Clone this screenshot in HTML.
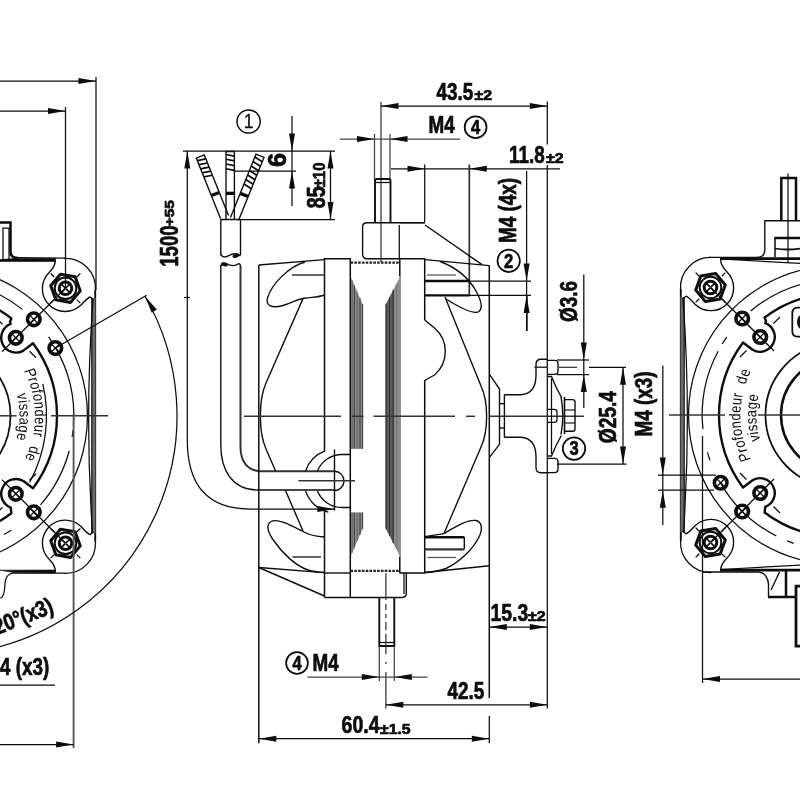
<!DOCTYPE html>
<html><head><meta charset="utf-8"><title>Motor drawing</title>
<style>
html,body{margin:0;padding:0;background:#fff;width:800px;height:800px;overflow:hidden;}
svg{display:block;filter:grayscale(1);}
text{font-family:"Liberation Sans",Arial,Helvetica,sans-serif;fill:#0d0d0d;stroke:#0d0d0d;stroke-width:0.7px;stroke-linejoin:round;}
</style></head>
<body>
<svg width="800" height="800" viewBox="0 0 800 800" fill="none" stroke-linecap="butt">
<rect x="0" y="0" width="800" height="800" fill="#fff"/>
<g id="leftview">
<g transform="translate(-62,415.8)">
<path d="M126.45,-157.48A30.00,30.00 0 0 1 157.46,-125.93" stroke="#0d0d0d" stroke-width="1.25" fill="none" />
<path d="M157.46,125.93A30.00,30.00 0 0 1 126.45,157.48" stroke="#0d0d0d" stroke-width="1.25" fill="none" />
<line x1="157.20" y1="-126.00" x2="157.20" y2="126.00" stroke="#0d0d0d" stroke-width="1.88" />
<rect x="153.6" y="-118" width="3.9" height="235.5" fill="#6c6c6c" stroke="none"/>
<line x1="153.80" y1="-118.00" x2="153.80" y2="117.50" stroke="#0d0d0d" stroke-width="1.12" />
<path d="M155,-116Q146.5,0 154.5,117" stroke="#0d0d0d" stroke-width="1.25" fill="none" />
<path d="M117.5,-155.5Q117,-149 111.4,-143.6A22.8,22.8 0 0 0 143,-110.7Q149,-117.5 152,-118.8L155.5,-116" stroke="#0d0d0d" stroke-width="1.38" fill="none" />
<path d="M117.5,155.5Q117,149 111.4,143.6A22.8,22.8 0 0 1 143,110.7Q149,117.5 152,118.8L155.5,116" stroke="#0d0d0d" stroke-width="1.38" fill="none" />
<polygon points="142.27,-124.90 132.63,-113.40 117.86,-116.01 112.73,-130.10 122.37,-141.60 137.14,-138.99" fill="none" stroke="#0d0d0d" stroke-width="3" stroke-linejoin="round"/>
<circle cx="127.50" cy="-127.50" r="10.80" stroke="#0d0d0d" stroke-width="2.00" fill="none"/>
<circle cx="127.50" cy="-127.50" r="6.30" stroke="#0d0d0d" stroke-width="3.00" fill="none"/>
<line x1="132.10" y1="-122.90" x2="127.85" y2="-127.15" stroke="#0d0d0d" stroke-width="1.62" />
<line x1="138.81" y1="-116.19" x2="142.35" y2="-112.65" stroke="#0d0d0d" stroke-width="1.25" />
<line x1="122.90" y1="-122.90" x2="127.15" y2="-127.15" stroke="#0d0d0d" stroke-width="1.62" />
<line x1="116.19" y1="-116.19" x2="112.65" y2="-112.65" stroke="#0d0d0d" stroke-width="1.25" />
<line x1="122.90" y1="-132.10" x2="127.15" y2="-127.85" stroke="#0d0d0d" stroke-width="1.62" />
<line x1="116.19" y1="-138.81" x2="112.65" y2="-142.35" stroke="#0d0d0d" stroke-width="1.25" />
<line x1="132.10" y1="-132.10" x2="127.85" y2="-127.85" stroke="#0d0d0d" stroke-width="1.62" />
<line x1="138.81" y1="-138.81" x2="142.35" y2="-142.35" stroke="#0d0d0d" stroke-width="1.25" />
<polygon points="142.27,130.10 132.63,141.60 117.86,138.99 112.73,124.90 122.37,113.40 137.14,116.01" fill="none" stroke="#0d0d0d" stroke-width="3" stroke-linejoin="round"/>
<circle cx="127.50" cy="127.50" r="10.80" stroke="#0d0d0d" stroke-width="2.00" fill="none"/>
<circle cx="127.50" cy="127.50" r="6.30" stroke="#0d0d0d" stroke-width="3.00" fill="none"/>
<line x1="132.10" y1="132.10" x2="127.85" y2="127.85" stroke="#0d0d0d" stroke-width="1.62" />
<line x1="138.81" y1="138.81" x2="142.35" y2="142.35" stroke="#0d0d0d" stroke-width="1.25" />
<line x1="122.90" y1="132.10" x2="127.15" y2="127.85" stroke="#0d0d0d" stroke-width="1.62" />
<line x1="116.19" y1="138.81" x2="112.65" y2="142.35" stroke="#0d0d0d" stroke-width="1.25" />
<line x1="122.90" y1="122.90" x2="127.15" y2="127.15" stroke="#0d0d0d" stroke-width="1.62" />
<line x1="116.19" y1="116.19" x2="112.65" y2="112.65" stroke="#0d0d0d" stroke-width="1.25" />
<line x1="132.10" y1="122.90" x2="127.85" y2="127.15" stroke="#0d0d0d" stroke-width="1.62" />
<line x1="138.81" y1="116.19" x2="142.35" y2="112.65" stroke="#0d0d0d" stroke-width="1.25" />
<circle cx="95.80" cy="-96.50" r="6.30" stroke="#0d0d0d" stroke-width="3.62" fill="none"/>
<line x1="100.25" y1="-92.05" x2="91.35" y2="-100.95" stroke="#0d0d0d" stroke-width="1.25" />
<line x1="91.35" y1="-92.05" x2="100.25" y2="-100.95" stroke="#0d0d0d" stroke-width="1.25" />
<circle cx="77.80" cy="-78.00" r="6.30" stroke="#0d0d0d" stroke-width="3.62" fill="none"/>
<line x1="82.25" y1="-73.55" x2="73.35" y2="-82.45" stroke="#0d0d0d" stroke-width="1.25" />
<line x1="73.35" y1="-73.55" x2="82.25" y2="-82.45" stroke="#0d0d0d" stroke-width="1.25" />
<line x1="127.50" y1="-127.50" x2="64.00" y2="-64.00" stroke="#0d0d0d" stroke-width="1.25" />
<circle cx="95.80" cy="96.50" r="6.30" stroke="#0d0d0d" stroke-width="3.62" fill="none"/>
<line x1="100.25" y1="100.95" x2="91.35" y2="92.05" stroke="#0d0d0d" stroke-width="1.25" />
<line x1="91.35" y1="100.95" x2="100.25" y2="92.05" stroke="#0d0d0d" stroke-width="1.25" />
<circle cx="77.80" cy="78.00" r="6.30" stroke="#0d0d0d" stroke-width="3.62" fill="none"/>
<line x1="82.25" y1="82.45" x2="73.35" y2="73.55" stroke="#0d0d0d" stroke-width="1.25" />
<line x1="73.35" y1="82.45" x2="82.25" y2="73.55" stroke="#0d0d0d" stroke-width="1.25" />
<line x1="127.50" y1="127.50" x2="64.00" y2="64.00" stroke="#0d0d0d" stroke-width="1.25" />
<path d="M31.08,-146.23A149.50,149.50 0 0 1 31.08,146.23" stroke="#0d0d0d" stroke-width="1.25" fill="none" />
<path d="M21.19,-120.15A122.00,122.00 0 0 1 73.42,-97.43L72,-94L72.70,-91.82A14.80,14.80 0 1 0 85.40,-65.18L95,-72.5A121.5,121.5 0 0 1 95,72.5L85.40,65.18A14.80,14.80 0 1 0 72.70,91.82L73.4,97.4L73.42,97.43A122.00,122.00 0 0 1 21.19,120.15" stroke="#0d0d0d" stroke-width="2.38" fill="none" stroke-linejoin="round"/>
<path d="M104.80,-31.97A140.00,140.00 0 0 1 91.65,66.59" stroke="#0d0d0d" stroke-width="1.25" fill="none" />
<line x1="64.50" y1="-91.50" x2="58.00" y2="-98.00" stroke="#0d0d0d" stroke-width="1.25" />
<line x1="91.50" y1="-64.50" x2="98.00" y2="-58.00" stroke="#0d0d0d" stroke-width="1.25" />
<line x1="64.50" y1="91.50" x2="58.00" y2="98.00" stroke="#0d0d0d" stroke-width="1.25" />
<line x1="91.50" y1="64.50" x2="98.00" y2="58.00" stroke="#0d0d0d" stroke-width="1.25" />
<path d="M12.59,-71.40A72.50,72.50 0 0 1 12.59,71.40" stroke="#0d0d0d" stroke-width="1.75" fill="none" />
<path d="M9.90,-56.13A57.00,57.00 0 0 1 9.90,56.13" stroke="#0d0d0d" stroke-width="2.50" fill="none" />
<circle cx="117.35" cy="-67.75" r="6.30" stroke="#0d0d0d" stroke-width="3.62" fill="none"/>
<line x1="121.80" y1="-63.30" x2="112.89" y2="-72.20" stroke="#0d0d0d" stroke-width="1.25" />
<line x1="112.89" y1="-63.30" x2="121.80" y2="-72.20" stroke="#0d0d0d" stroke-width="1.25" />
<path d="M23.58,-133.74A135.80,135.80 0 0 1 84.35,-106.43" stroke="#0d0d0d" stroke-width="1.25" fill="none" />
<path d="M110.56,-78.86A135.80,135.80 0 0 1 113.89,-73.96" stroke="#0d0d0d" stroke-width="1.25" fill="none" />
<path d="M117.61,-67.90A135.80,135.80 0 0 1 135.47,9.47" stroke="#0d0d0d" stroke-width="1.25" fill="none" />
<path d="M135.08,13.96A135.80,135.80 0 0 1 134.16,21.01" stroke="#0d0d0d" stroke-width="1.25" fill="none" />
<path d="M131.23,34.92A135.80,135.80 0 0 1 102.49,89.09" stroke="#0d0d0d" stroke-width="1.25" fill="none" />
<path d="M73.17,114.41A135.80,135.80 0 0 1 65.84,118.77" stroke="#0d0d0d" stroke-width="1.25" fill="none" />
<path d="M59.53,122.06A135.80,135.80 0 0 1 11.84,135.28" stroke="#0d0d0d" stroke-width="1.25" fill="none" />
</g>
<line x1="0.00" y1="81.00" x2="96.00" y2="81.00" stroke="#0d0d0d" stroke-width="1.25" />
<polygon points="96.00,81.00 78.50,84.00 78.50,78.00" fill="#0d0d0d"/>
<line x1="96.00" y1="77.00" x2="96.00" y2="290.00" stroke="#0d0d0d" stroke-width="1.25" />
<line x1="0.00" y1="111.00" x2="65.50" y2="111.00" stroke="#0d0d0d" stroke-width="1.25" />
<polygon points="65.50,111.00 48.00,114.00 48.00,108.00" fill="#0d0d0d"/>
<line x1="65.50" y1="107.00" x2="65.50" y2="288.00" stroke="#0d0d0d" stroke-width="1.25" />
<path d="M0,222.5H10.5V252Q10.5,258 18,258" stroke="#0d0d0d" stroke-width="2.50" fill="none" />
<path d="M3,261V228H9V261" stroke="#0d0d0d" stroke-width="1.25" fill="none" />
<path d="M14,258.6L55.5,258.4L55.5,261.6L0,261.4L0,259.6Z" stroke="#0d0d0d" stroke-width="0.62" fill="#0d0d0d" />
<line x1="17.00" y1="257.60" x2="65.00" y2="258.20" stroke="#0d0d0d" stroke-width="1.25" />
<path d="M0,570.2L55.5,570L55.5,573L14,572.6Z" stroke="#0d0d0d" stroke-width="0.62" fill="#0d0d0d" />
<path d="M65,573H13Q6,574 5,583Q4.5,598 0,598" stroke="#0d0d0d" stroke-width="1.25" fill="none" />
<line x1="0.00" y1="415.80" x2="16.50" y2="415.80" stroke="#333" stroke-width="1.50" />
<line x1="51.00" y1="415.80" x2="108.00" y2="415.80" stroke="#333" stroke-width="1.50" />
<line x1="73.60" y1="414.00" x2="73.60" y2="748.00" stroke="#555" stroke-width="1.88" />
<line x1="55.35" y1="348.05" x2="146.71" y2="295.30" stroke="#0d0d0d" stroke-width="1.25" />
<path d="M144.98,296.30A239.00,239.00 0 0 1 -20.50,651.17" stroke="#0d0d0d" stroke-width="1.25" fill="none" />
<polygon points="144.98,296.30 156.80,309.55 151.71,312.73" fill="#0d0d0d"/>
<line x1="0.00" y1="744.50" x2="73.60" y2="744.50" stroke="#0d0d0d" stroke-width="1.25" />
<polygon points="73.60,744.50 56.10,747.50 56.10,741.50" fill="#0d0d0d"/>
<text transform="translate(-12.50,638.80) rotate(-21.7) scale(0.82,1)" font-size="23" font-weight="bold" text-anchor="start" >120°(x3)</text>
<text transform="translate(-15.70,674.80) rotate(0) scale(0.82,1)" font-size="23" font-weight="bold" text-anchor="start" >M4 (x3)</text>
<line x1="0.00" y1="685.00" x2="55.00" y2="685.00" stroke="#0d0d0d" stroke-width="1.25" />
</g>
<g id="cable">
<line x1="183.00" y1="151.00" x2="335.00" y2="151.00" stroke="#0d0d0d" stroke-width="1.25" />
<line x1="187.30" y1="151.00" x2="187.30" y2="440.00" stroke="#0d0d0d" stroke-width="1.25" />
<polygon points="187.30,151.00 190.30,168.50 184.30,168.50" fill="#0d0d0d"/>
<line x1="184.00" y1="297.50" x2="190.00" y2="297.50" stroke="#0d0d0d" stroke-width="1.25" />
<path d="M187.3,440C187.3,482 205,509 250,509H334" stroke="#0d0d0d" stroke-width="1.25" fill="none" />
<polygon points="334.40,509.00 317.40,512.00 317.40,506.00" fill="#0d0d0d"/>
<line x1="292.00" y1="116.00" x2="292.00" y2="206.00" stroke="#0d0d0d" stroke-width="1.25" />
<polygon points="292.00,151.00 289.00,133.50 295.00,133.50" fill="#0d0d0d"/>
<polygon points="292.00,171.00 295.00,188.50 289.00,188.50" fill="#0d0d0d"/>
<line x1="234.00" y1="171.00" x2="296.00" y2="171.00" stroke="#0d0d0d" stroke-width="1.25" />
<line x1="330.50" y1="151.00" x2="330.50" y2="219.50" stroke="#0d0d0d" stroke-width="1.25" />
<polygon points="330.50,151.00 333.50,168.50 327.50,168.50" fill="#0d0d0d"/>
<polygon points="330.50,219.50 327.50,202.00 333.50,202.00" fill="#0d0d0d"/>
<line x1="240.00" y1="219.50" x2="335.00" y2="219.50" stroke="#0d0d0d" stroke-width="1.25" />
<path d="M220.51,218.60L196.31,158.10L204.29,154.90L228.49,215.40" stroke="#0d0d0d" stroke-width="1.38" fill="none" />
<line x1="197.32" y1="160.62" x2="205.90" y2="158.91" stroke="#0d0d0d" stroke-width="1.75" />
<line x1="198.95" y1="164.71" x2="207.53" y2="163.00" stroke="#0d0d0d" stroke-width="1.75" />
<line x1="200.59" y1="168.79" x2="209.17" y2="167.08" stroke="#0d0d0d" stroke-width="1.75" />
<line x1="202.22" y1="172.88" x2="210.80" y2="171.17" stroke="#0d0d0d" stroke-width="1.75" />
<line x1="203.85" y1="176.96" x2="212.43" y2="175.26" stroke="#0d0d0d" stroke-width="1.75" />
<line x1="211.31" y1="195.61" x2="219.30" y2="192.41" stroke="#0d0d0d" stroke-width="3.25" />
<path d="M226.00,219.00L226.00,151.50L234.40,151.50L234.40,219.00" stroke="#0d0d0d" stroke-width="1.38" fill="none" />
<line x1="226.00" y1="154.50" x2="234.40" y2="156.10" stroke="#0d0d0d" stroke-width="1.75" />
<line x1="226.00" y1="159.25" x2="234.40" y2="160.85" stroke="#0d0d0d" stroke-width="1.75" />
<line x1="226.00" y1="164.00" x2="234.40" y2="165.60" stroke="#0d0d0d" stroke-width="1.75" />
<line x1="226.00" y1="168.75" x2="234.40" y2="170.35" stroke="#0d0d0d" stroke-width="1.75" />
<line x1="226.00" y1="193.35" x2="234.40" y2="193.35" stroke="#0d0d0d" stroke-width="3.25" />
<path d="M230.51,217.39L256.01,154.19L263.99,157.41L238.49,220.61" stroke="#0d0d0d" stroke-width="1.38" fill="none" />
<line x1="254.86" y1="157.05" x2="262.23" y2="161.75" stroke="#0d0d0d" stroke-width="1.75" />
<line x1="253.04" y1="161.56" x2="260.42" y2="166.26" stroke="#0d0d0d" stroke-width="1.75" />
<line x1="251.22" y1="166.06" x2="258.60" y2="170.76" stroke="#0d0d0d" stroke-width="1.75" />
<line x1="249.41" y1="170.57" x2="256.78" y2="175.27" stroke="#0d0d0d" stroke-width="1.75" />
<line x1="247.59" y1="175.07" x2="254.96" y2="179.77" stroke="#0d0d0d" stroke-width="1.75" />
<line x1="245.77" y1="179.57" x2="253.15" y2="184.28" stroke="#0d0d0d" stroke-width="1.75" />
<line x1="243.95" y1="184.08" x2="251.33" y2="188.78" stroke="#0d0d0d" stroke-width="1.75" />
<line x1="240.20" y1="193.38" x2="248.18" y2="196.59" stroke="#0d0d0d" stroke-width="3.25" />
<path d="M220.8,255.5V219.5H240.5V255" stroke="#0d0d0d" stroke-width="1.38" fill="none" />
<path d="M220.8,254Q222,258.5 228,256Q236,251.5 240.5,256" stroke="#0d0d0d" stroke-width="1.38" fill="none" />
<ellipse cx="236" cy="255.8" rx="3.6" ry="1.9" fill="#111" transform="rotate(-15 236 255.8)"/>
<path d="M220.8,266Q222,262 226,263.5Q234,267.5 238,264Q240.5,263 240.5,267" stroke="#0d0d0d" stroke-width="1.38" fill="none" />
<ellipse cx="224.5" cy="264.4" rx="3.4" ry="1.9" fill="#111" transform="rotate(15 224.5 264.4)"/>
<path d="M220.8,265V445C220.8,470 232,490 258,490H334.5" stroke="#0d0d0d" stroke-width="1.38" fill="none" />
<path d="M240.5,266V447C240.5,461 247,471.3 262,471.3H334.5" stroke="#333" stroke-width="2.00" fill="none" />
<path d="M334.5,471.3A9.5,9.6 0 0 1 334.5,490.5" stroke="#0d0d0d" stroke-width="1.38" fill="none" />
<circle cx="248.60" cy="121.50" r="11.60" stroke="#0d0d0d" stroke-width="1.50" fill="none"/>
</g>
<text transform="translate(178.00,266.80) rotate(-90) scale(0.71,1)" font-size="26.3" font-weight="bold" text-anchor="start" >1500</text>
<text transform="translate(173.80,226.30) rotate(-90) scale(1.25,1)" font-size="12.4" font-weight="bold" text-anchor="start" >+55</text>
<text transform="translate(325.20,208.60) rotate(-90) scale(0.78,1)" font-size="25.8" font-weight="bold" text-anchor="start" >85</text>
<text transform="translate(325.20,187.30) rotate(-90) scale(0.875,1)" font-size="17" font-weight="bold" text-anchor="start" >±10</text>
<text transform="translate(286.40,167.00) rotate(-90) scale(0.98,1)" font-size="25.8" font-weight="bold" text-anchor="start" >6</text>
<text transform="translate(248.60,128.40) rotate(0) scale(0.9,1)" font-size="19.5" font-weight="normal" text-anchor="middle" style="stroke-width:0.3px">1</text>
<g id="central">
<line x1="381.00" y1="102.00" x2="381.00" y2="262.00" stroke="#333" stroke-width="1.25" />
<line x1="381.00" y1="106.00" x2="547.30" y2="106.00" stroke="#0d0d0d" stroke-width="1.25" />
<polygon points="381.00,106.00 398.50,103.00 398.50,109.00" fill="#0d0d0d"/>
<polygon points="547.30,106.00 529.80,109.00 529.80,103.00" fill="#0d0d0d"/>
<line x1="547.30" y1="101.50" x2="547.30" y2="144.50" stroke="#0d0d0d" stroke-width="1.25" />
<line x1="547.30" y1="165.00" x2="547.30" y2="708.50" stroke="#0d0d0d" stroke-width="1.25" />
<line x1="340.00" y1="139.00" x2="460.00" y2="139.00" stroke="#444" stroke-width="1.25" />
<polygon points="374.50,139.00 357.00,142.00 357.00,136.00" fill="#0d0d0d"/>
<polygon points="390.00,139.00 407.50,136.00 407.50,142.00" fill="#0d0d0d"/>
<line x1="374.50" y1="134.00" x2="374.50" y2="180.00" stroke="#444" stroke-width="1.25" />
<line x1="390.00" y1="134.00" x2="390.00" y2="180.00" stroke="#444" stroke-width="1.25" />
<path d="M375,222.5V181Q375,179 377,179H388.5Q390.5,179 390.5,181V222.5" stroke="#0d0d0d" stroke-width="1.88" fill="none" />
<line x1="375.00" y1="182.50" x2="390.50" y2="182.50" stroke="#0d0d0d" stroke-width="1.25" />
<line x1="391.00" y1="168.80" x2="560.00" y2="168.80" stroke="#0d0d0d" stroke-width="1.25" />
<polygon points="425.00,168.80 407.50,171.80 407.50,165.80" fill="#0d0d0d"/>
<polygon points="469.30,168.80 486.80,165.80 486.80,171.80" fill="#0d0d0d"/>
<line x1="469.30" y1="164.50" x2="469.30" y2="295.00" stroke="#333" stroke-width="1.75" />
<line x1="424.70" y1="164.50" x2="424.70" y2="222.00" stroke="#0d0d0d" stroke-width="1.25" />
<line x1="526.60" y1="171.00" x2="526.60" y2="331.00" stroke="#0d0d0d" stroke-width="1.25" />
<polygon points="526.60,281.00 523.60,263.50 529.60,263.50" fill="#0d0d0d"/>
<polygon points="526.60,295.40 529.60,312.90 523.60,312.90" fill="#0d0d0d"/>
<line x1="470.00" y1="281.00" x2="531.00" y2="281.00" stroke="#0d0d0d" stroke-width="1.25" />
<line x1="470.00" y1="295.40" x2="531.00" y2="295.40" stroke="#0d0d0d" stroke-width="1.25" />
<path d="M425,222.7H367Q362.6,222.7 362.6,227V254Q362.6,258.8 367,258.8" stroke="#0d0d0d" stroke-width="1.38" fill="none" />
<line x1="399.30" y1="225.00" x2="399.30" y2="259.00" stroke="#0d0d0d" stroke-width="1.25" />
<line x1="366.50" y1="258.80" x2="399.60" y2="258.80" stroke="#0d0d0d" stroke-width="1.38" />
<line x1="400.00" y1="222.70" x2="424.70" y2="222.70" stroke="#0d0d0d" stroke-width="1.25" />
<path d="M324.5,452V258.8H350.3V598" stroke="#0d0d0d" stroke-width="1.50" fill="none" />
<path d="M399.8,276V258.8H424.7V320" stroke="#0d0d0d" stroke-width="1.50" fill="none" />
<line x1="399.80" y1="557.00" x2="399.80" y2="573.00" stroke="#0d0d0d" stroke-width="1.50" />
<line x1="400.10" y1="276.00" x2="400.10" y2="557.00" stroke="#666" stroke-width="1.12" />
<path d="M399.6,573H424.7V380" stroke="#0d0d0d" stroke-width="1.50" fill="none" />
<line x1="350.50" y1="262.60" x2="399.50" y2="262.60" stroke="#222" stroke-width="2.25" stroke-dasharray="2.6 1.2"/>
<line x1="350.50" y1="570.80" x2="399.50" y2="570.80" stroke="#222" stroke-width="2.25" stroke-dasharray="2.6 1.2"/>
<path d="M351,277.5L363,305V448.7H351Z" fill="#8a8a8a" stroke="none"/>
<path d="M351,512.5H363V528L351,555.5Z" fill="#8a8a8a" stroke="none"/>
<line x1="352.20" y1="280.34" x2="352.20" y2="448.70" stroke="#666" stroke-width="1.12" />
<line x1="352.20" y1="512.50" x2="352.20" y2="552.66" stroke="#666" stroke-width="1.12" />
<line x1="354.40" y1="285.36" x2="354.40" y2="448.70" stroke="#444" stroke-width="1.12" />
<line x1="354.40" y1="512.50" x2="354.40" y2="547.64" stroke="#444" stroke-width="1.12" />
<line x1="357.30" y1="291.98" x2="357.30" y2="448.70" stroke="#666" stroke-width="1.12" />
<line x1="357.30" y1="512.50" x2="357.30" y2="541.02" stroke="#666" stroke-width="1.12" />
<line x1="360.00" y1="298.15" x2="360.00" y2="448.70" stroke="#444" stroke-width="1.12" />
<line x1="360.00" y1="512.50" x2="360.00" y2="534.85" stroke="#444" stroke-width="1.12" />
<line x1="362.60" y1="304.09" x2="362.60" y2="448.70" stroke="#444" stroke-width="1.12" />
<line x1="362.60" y1="512.50" x2="362.60" y2="528.91" stroke="#444" stroke-width="1.12" />
<path d="M400.4,276L385.6,305V528L400.4,557Z" fill="#8c8c8c" stroke="none"/>
<path d="M394,288.5L385.6,305V528L394,544.5Z" fill="#5c5c5c" stroke="none"/>
<line x1="386.20" y1="303.82" x2="386.20" y2="529.18" stroke="#333" stroke-width="1.12" />
<line x1="389.60" y1="297.16" x2="389.60" y2="535.84" stroke="#333" stroke-width="1.12" />
<line x1="393.20" y1="290.11" x2="393.20" y2="542.89" stroke="#333" stroke-width="1.12" />
<line x1="396.50" y1="283.64" x2="396.50" y2="549.36" stroke="#777" stroke-width="1.12" />
<line x1="258.80" y1="265.00" x2="258.80" y2="743.30" stroke="#0d0d0d" stroke-width="1.50" />
<line x1="258.80" y1="265.00" x2="324.50" y2="259.60" stroke="#0d0d0d" stroke-width="1.38" />
<path d="M305,262C290,266 272,283 267.5,298C265.5,306 272,308.5 283,305.5C292,303 296,299.5 304,298.3C312,297 318,297.5 324.5,295" stroke="#0d0d0d" stroke-width="1.38" fill="none" />
<line x1="292.00" y1="275.00" x2="324.00" y2="275.00" stroke="#0d0d0d" stroke-width="1.25" />
<path d="M303,298.6L266,383C258.5,400 258.5,432 266,449L275.7,471.3" stroke="#0d0d0d" stroke-width="1.38" fill="none" />
<path d="M285.5,490.5L303,531" stroke="#0d0d0d" stroke-width="1.38" fill="none" />
<path d="M324.5,537C315,536.5 308,534.5 303,531.5C292,526 278,518 271,521.5C265.5,524.5 268,533 274,541C283,554 296,566 308,570C314,572 320,572.3 324.5,572.5" stroke="#0d0d0d" stroke-width="1.38" fill="none" />
<line x1="292.50" y1="557.00" x2="321.00" y2="557.00" stroke="#0d0d0d" stroke-width="1.25" />
<line x1="258.80" y1="567.50" x2="324.50" y2="572.60" stroke="#0d0d0d" stroke-width="1.38" />
<line x1="258.80" y1="567.50" x2="324.50" y2="596.00" stroke="#0d0d0d" stroke-width="1.38" />
<line x1="324.50" y1="509.00" x2="324.50" y2="597.50" stroke="#0d0d0d" stroke-width="1.50" />
<path d="M324.5,597.5H402Q406.3,597.5 406.3,593V573" stroke="#0d0d0d" stroke-width="1.38" fill="none" />
<line x1="324.50" y1="573.00" x2="350.00" y2="573.00" stroke="#0d0d0d" stroke-width="1.38" />
<line x1="404.00" y1="573.00" x2="404.00" y2="594.00" stroke="#0d0d0d" stroke-width="1.25" />
<path d="M379.3,597.5V646H394.3V597.5" stroke="#0d0d0d" stroke-width="1.88" fill="none" />
<line x1="379.30" y1="642.50" x2="394.30" y2="642.50" stroke="#0d0d0d" stroke-width="1.25" />
<line x1="379.30" y1="646.00" x2="379.30" y2="681.00" stroke="#444" stroke-width="1.25" />
<line x1="394.30" y1="646.00" x2="394.30" y2="681.00" stroke="#444" stroke-width="1.25" />
<line x1="385.90" y1="573.00" x2="385.90" y2="708.50" stroke="#333" stroke-width="1.25" stroke-dasharray="27 4 6 4 4 4 8 4 20 8 2 8 60"/>
<line x1="307.50" y1="677.00" x2="427.50" y2="677.00" stroke="#444" stroke-width="1.25" />
<polygon points="379.30,677.00 361.80,680.00 361.80,674.00" fill="#0d0d0d"/>
<polygon points="394.30,677.00 411.80,674.00 411.80,680.00" fill="#0d0d0d"/>
<line x1="385.80" y1="704.80" x2="547.30" y2="704.80" stroke="#0d0d0d" stroke-width="1.25" />
<polygon points="385.80,704.80 403.30,701.80 403.30,707.80" fill="#0d0d0d"/>
<polygon points="547.30,704.80 529.80,707.80 529.80,701.80" fill="#0d0d0d"/>
<line x1="258.80" y1="738.70" x2="489.30" y2="738.70" stroke="#0d0d0d" stroke-width="1.25" />
<polygon points="258.80,738.70 276.30,735.70 276.30,741.70" fill="#0d0d0d"/>
<polygon points="489.30,738.70 471.80,741.70 471.80,735.70" fill="#0d0d0d"/>
<line x1="489.30" y1="716.00" x2="489.30" y2="743.30" stroke="#0d0d0d" stroke-width="1.25" />
<line x1="489.30" y1="627.10" x2="547.30" y2="627.10" stroke="#0d0d0d" stroke-width="1.25" />
<polygon points="489.30,627.10 506.80,624.10 506.80,630.10" fill="#0d0d0d"/>
<polygon points="547.30,627.10 529.80,630.10 529.80,624.10" fill="#0d0d0d"/>
<line x1="489.30" y1="265.50" x2="489.30" y2="698.00" stroke="#0d0d0d" stroke-width="1.50" />
<line x1="425.00" y1="225.00" x2="482.00" y2="264.60" stroke="#0d0d0d" stroke-width="1.38" />
<line x1="424.70" y1="259.60" x2="489.50" y2="265.60" stroke="#0d0d0d" stroke-width="1.38" />
<line x1="427.00" y1="275.00" x2="456.00" y2="275.00" stroke="#555" stroke-width="1.25" />
<line x1="424.70" y1="281.00" x2="470.00" y2="281.00" stroke="#0d0d0d" stroke-width="2.38" />
<line x1="424.70" y1="295.40" x2="470.00" y2="295.40" stroke="#0d0d0d" stroke-width="2.38" />
<path d="M440,261.5C455,267 468,277 476,291C481,300 483,308 479,311.5C474,315 462,309 446,299" stroke="#0d0d0d" stroke-width="1.38" fill="none" />
<path d="M445,297L481,386C488.5,402 488.5,431 481,447L444,533.5" stroke="#0d0d0d" stroke-width="1.38" fill="none" />
<path d="M424.7,320L434.5,328A31,31 0 0 1 434.5,375L424.7,380.5" stroke="#0d0d0d" stroke-width="1.38" fill="none" />
<path d="M444,533.5C455,527 468,519 476,520.5C482,522 483,529 479,537C473,549 460,562 446,568.5C438,571.5 431,572.3 424.7,572.5" stroke="#0d0d0d" stroke-width="1.38" fill="none" />
<line x1="424.70" y1="536.60" x2="444.00" y2="533.60" stroke="#0d0d0d" stroke-width="1.25" />
<line x1="424.70" y1="537.20" x2="464.30" y2="537.20" stroke="#0d0d0d" stroke-width="2.38" />
<line x1="464.30" y1="537.00" x2="464.30" y2="549.30" stroke="#0d0d0d" stroke-width="1.38" />
<line x1="424.70" y1="549.30" x2="464.30" y2="549.30" stroke="#333" stroke-width="2.25" />
<line x1="427.50" y1="557.50" x2="456.00" y2="557.50" stroke="#555" stroke-width="1.25" />
<line x1="424.70" y1="572.50" x2="489.50" y2="565.70" stroke="#0d0d0d" stroke-width="1.38" />
<path d="M324.53,451.13A32.00,32.00 0 0 0 305.57,471.11" stroke="#0d0d0d" stroke-width="1.38" fill="none" />
<path d="M305.57,490.89A32.00,32.00 0 0 0 328.26,512.05" stroke="#0d0d0d" stroke-width="1.38" fill="none" />
<path d="M350.3,454.5H342A26.50,26.50 0 0 0 317.43,471.07" stroke="#0d0d0d" stroke-width="1.38" fill="none" />
<path d="M317.43,490.93A26.50,26.50 0 0 0 342.00,507.50H350.3" stroke="#0d0d0d" stroke-width="1.38" fill="none" />
<line x1="334.50" y1="449.50" x2="334.50" y2="510.50" stroke="#0d0d0d" stroke-width="1.38" />
<line x1="298.50" y1="480.80" x2="355.00" y2="480.80" stroke="#333" stroke-width="1.62" />
<line x1="244.00" y1="416.30" x2="341.00" y2="416.30" stroke="#333" stroke-width="1.50" />
<line x1="352.00" y1="416.30" x2="363.50" y2="416.30" stroke="#333" stroke-width="1.50" />
<line x1="373.50" y1="416.30" x2="455.00" y2="416.30" stroke="#333" stroke-width="1.50" />
<line x1="466.00" y1="416.30" x2="475.00" y2="416.30" stroke="#333" stroke-width="1.50" />
<line x1="489.00" y1="416.30" x2="584.00" y2="416.30" stroke="#333" stroke-width="1.50" />
<path d="M489.5,374.4L499.5,389V444.3L489.5,457.3" stroke="#0d0d0d" stroke-width="1.38" fill="none" />
<line x1="499.50" y1="403.70" x2="504.40" y2="403.70" stroke="#0d0d0d" stroke-width="1.38" />
<line x1="499.50" y1="428.00" x2="504.40" y2="428.00" stroke="#0d0d0d" stroke-width="1.38" />
<path d="M504.4,394.7H521C531,394 536,388 536,375V364.5Q536,359.3 541,359.3H547.5" stroke="#0d0d0d" stroke-width="1.38" fill="none" />
<path d="M504.4,437.3H521C531,438 536,444 536,457V467.5Q536,472.8 541,472.8H547.5" stroke="#0d0d0d" stroke-width="1.38" fill="none" />
<line x1="504.40" y1="394.70" x2="504.40" y2="437.30" stroke="#0d0d0d" stroke-width="1.38" />
<line x1="534.50" y1="367.20" x2="547.00" y2="367.20" stroke="#0d0d0d" stroke-width="1.25" />
<path d="M547.5,360.4H554.5Q558,360.4 558,363.5V371Q558,374.4 554.5,374.4H547.5" stroke="#0d0d0d" stroke-width="1.38" fill="none" />
<path d="M547.5,458.4H554.5Q558,458.4 558,461.5V469Q558,472.6 554.5,472.6H547.5" stroke="#0d0d0d" stroke-width="1.38" fill="none" />
<line x1="551.50" y1="378.50" x2="551.50" y2="454.00" stroke="#0d0d0d" stroke-width="1.25" />
<path d="M547.5,376.5H551.5Q556,388 561.3,397M547.5,456H551.5Q556,445 561.3,435.5" stroke="#0d0d0d" stroke-width="1.38" fill="none" />
<path d="M547.5,409.3H554Q557,409.3 557,412V419.5Q557,422.4 554,422.4H547.5" stroke="#0d0d0d" stroke-width="1.25" fill="none" />
<path d="M561,396.3Q564.5,416 561,434.5" stroke="#0d0d0d" stroke-width="1.38" fill="none" />
<path d="M564.5,397V434" stroke="#0d0d0d" stroke-width="1.62" fill="none" />
<path d="M564.5,399.6H572.5Q575,399.6 575,402V429Q575,431.3 572.5,431.3H564.5" stroke="#0d0d0d" stroke-width="1.38" fill="none" />
<line x1="564.50" y1="410.00" x2="575.00" y2="410.00" stroke="#0d0d0d" stroke-width="1.12" />
<line x1="564.50" y1="423.00" x2="575.00" y2="423.00" stroke="#0d0d0d" stroke-width="1.12" />
<line x1="583.80" y1="274.50" x2="583.80" y2="408.00" stroke="#0d0d0d" stroke-width="1.25" />
<polygon points="583.80,360.00 580.80,342.50 586.80,342.50" fill="#0d0d0d"/>
<polygon points="583.80,374.60 586.80,392.10 580.80,392.10" fill="#0d0d0d"/>
<line x1="557.00" y1="360.00" x2="589.00" y2="360.00" stroke="#0d0d0d" stroke-width="1.25" />
<line x1="557.00" y1="374.60" x2="589.00" y2="374.60" stroke="#0d0d0d" stroke-width="1.25" />
<line x1="559.00" y1="367.30" x2="577.00" y2="367.30" stroke="#333" stroke-width="1.25" />
<line x1="589.00" y1="367.30" x2="626.00" y2="367.30" stroke="#0d0d0d" stroke-width="1.25" />
<line x1="623.00" y1="367.30" x2="623.00" y2="464.00" stroke="#0d0d0d" stroke-width="1.25" />
<polygon points="623.00,367.30 626.00,384.80 620.00,384.80" fill="#0d0d0d"/>
<polygon points="623.00,464.00 620.00,446.50 626.00,446.50" fill="#0d0d0d"/>
<line x1="557.00" y1="464.00" x2="626.50" y2="464.00" stroke="#0d0d0d" stroke-width="1.25" />
<line x1="527.00" y1="296.00" x2="527.00" y2="331.00" stroke="#0d0d0d" stroke-width="1.25" />
</g>
<text transform="translate(436.50,99.60) rotate(0) scale(0.82,1)" font-size="23" font-weight="bold" text-anchor="start" >43.5</text>
<text transform="translate(474.50,99.60) rotate(0) scale(1.1,1)" font-size="14.5" font-weight="bold" text-anchor="start" >±2</text>
<text transform="translate(428.50,132.80) rotate(0) scale(0.82,1)" font-size="23" font-weight="bold" text-anchor="start" >M4</text>
<circle cx="475.60" cy="127.20" r="10.90" stroke="#0d0d0d" stroke-width="1.75" fill="none"/>
<text transform="translate(475.60,134.00) rotate(0) scale(0.85,1)" font-size="19.5" font-weight="bold" text-anchor="middle" >4</text>
<text transform="translate(509.00,162.60) rotate(0) scale(0.82,1)" font-size="23" font-weight="bold" text-anchor="start" >11.8</text>
<text transform="translate(546.00,162.60) rotate(0) scale(1.1,1)" font-size="14.5" font-weight="bold" text-anchor="start" >±2</text>
<text transform="translate(516.30,243.00) rotate(-90) scale(0.82,1)" font-size="23" font-weight="bold" text-anchor="start" >M4 (4x)</text>
<circle cx="508.70" cy="260.80" r="11.20" stroke="#0d0d0d" stroke-width="1.75" fill="none"/>
<text transform="translate(508.70,267.60) rotate(0) scale(0.85,1)" font-size="19.5" font-weight="bold" text-anchor="middle" >2</text>
<text transform="translate(577.00,322.00) rotate(-90) scale(0.82,1)" font-size="23" font-weight="bold" text-anchor="start" >Ø3.6</text>
<text transform="translate(616.00,443.30) rotate(-90) scale(0.835,1)" font-size="23" font-weight="bold" text-anchor="start" >Ø25.4</text>
<text transform="translate(652.00,436.50) rotate(-90) scale(0.82,1)" font-size="23" font-weight="bold" text-anchor="start" >M4 (x3)</text>
<circle cx="574.00" cy="448.60" r="11.20" stroke="#0d0d0d" stroke-width="1.75" fill="none"/>
<text transform="translate(574.00,455.40) rotate(0) scale(0.85,1)" font-size="19.5" font-weight="bold" text-anchor="middle" >3</text>
<text transform="translate(490.50,620.60) rotate(0) scale(0.83,1)" font-size="23.4" font-weight="bold" text-anchor="start" >15.3</text>
<text transform="translate(528.00,620.60) rotate(0) scale(1.1,1)" font-size="14.5" font-weight="bold" text-anchor="start" >±2</text>
<text transform="translate(447.50,699.00) rotate(0) scale(0.82,1)" font-size="23" font-weight="bold" text-anchor="start" >42.5</text>
<text transform="translate(341.50,733.30) rotate(0) scale(0.83,1)" font-size="23.6" font-weight="bold" text-anchor="start" >60.4</text>
<text transform="translate(380.00,733.60) rotate(0) scale(1.05,1)" font-size="15" font-weight="bold" text-anchor="start" >±1.5</text>
<circle cx="297.00" cy="663.00" r="10.90" stroke="#0d0d0d" stroke-width="1.75" fill="none"/>
<text transform="translate(297.00,669.80) rotate(0) scale(0.85,1)" font-size="19.5" font-weight="bold" text-anchor="middle" >4</text>
<text transform="translate(312.50,671.00) rotate(0) scale(0.82,1)" font-size="23" font-weight="bold" text-anchor="start" >M4</text>
<g id="rightview">
<g transform="translate(838,415) scale(-1,1)">
<path d="M126.45,-157.48A30.00,30.00 0 0 1 157.46,-125.93" stroke="#0d0d0d" stroke-width="1.25" fill="none" />
<path d="M157.46,125.93A30.00,30.00 0 0 1 126.45,157.48" stroke="#0d0d0d" stroke-width="1.25" fill="none" />
<line x1="157.20" y1="-126.00" x2="157.20" y2="126.00" stroke="#0d0d0d" stroke-width="1.88" />
<rect x="153.6" y="-118" width="3.9" height="235.5" fill="#6c6c6c" stroke="none"/>
<line x1="153.80" y1="-118.00" x2="153.80" y2="117.50" stroke="#0d0d0d" stroke-width="1.12" />
<path d="M155,-116Q146.5,0 154.5,117" stroke="#0d0d0d" stroke-width="1.25" fill="none" />
<path d="M117.5,-155.5Q117,-149 111.4,-143.6A22.8,22.8 0 0 0 143,-110.7Q149,-117.5 152,-118.8L155.5,-116" stroke="#0d0d0d" stroke-width="1.38" fill="none" />
<path d="M117.5,155.5Q117,149 111.4,143.6A22.8,22.8 0 0 1 143,110.7Q149,117.5 152,118.8L155.5,116" stroke="#0d0d0d" stroke-width="1.38" fill="none" />
<polygon points="142.27,-124.90 132.63,-113.40 117.86,-116.01 112.73,-130.10 122.37,-141.60 137.14,-138.99" fill="none" stroke="#0d0d0d" stroke-width="3" stroke-linejoin="round"/>
<circle cx="127.50" cy="-127.50" r="10.80" stroke="#0d0d0d" stroke-width="2.00" fill="none"/>
<circle cx="127.50" cy="-127.50" r="6.30" stroke="#0d0d0d" stroke-width="3.00" fill="none"/>
<line x1="132.10" y1="-122.90" x2="127.85" y2="-127.15" stroke="#0d0d0d" stroke-width="1.62" />
<line x1="138.81" y1="-116.19" x2="142.35" y2="-112.65" stroke="#0d0d0d" stroke-width="1.25" />
<line x1="122.90" y1="-122.90" x2="127.15" y2="-127.15" stroke="#0d0d0d" stroke-width="1.62" />
<line x1="116.19" y1="-116.19" x2="112.65" y2="-112.65" stroke="#0d0d0d" stroke-width="1.25" />
<line x1="122.90" y1="-132.10" x2="127.15" y2="-127.85" stroke="#0d0d0d" stroke-width="1.62" />
<line x1="116.19" y1="-138.81" x2="112.65" y2="-142.35" stroke="#0d0d0d" stroke-width="1.25" />
<line x1="132.10" y1="-132.10" x2="127.85" y2="-127.85" stroke="#0d0d0d" stroke-width="1.62" />
<line x1="138.81" y1="-138.81" x2="142.35" y2="-142.35" stroke="#0d0d0d" stroke-width="1.25" />
<polygon points="142.27,130.10 132.63,141.60 117.86,138.99 112.73,124.90 122.37,113.40 137.14,116.01" fill="none" stroke="#0d0d0d" stroke-width="3" stroke-linejoin="round"/>
<circle cx="127.50" cy="127.50" r="10.80" stroke="#0d0d0d" stroke-width="2.00" fill="none"/>
<circle cx="127.50" cy="127.50" r="6.30" stroke="#0d0d0d" stroke-width="3.00" fill="none"/>
<line x1="132.10" y1="132.10" x2="127.85" y2="127.85" stroke="#0d0d0d" stroke-width="1.62" />
<line x1="138.81" y1="138.81" x2="142.35" y2="142.35" stroke="#0d0d0d" stroke-width="1.25" />
<line x1="122.90" y1="132.10" x2="127.15" y2="127.85" stroke="#0d0d0d" stroke-width="1.62" />
<line x1="116.19" y1="138.81" x2="112.65" y2="142.35" stroke="#0d0d0d" stroke-width="1.25" />
<line x1="122.90" y1="122.90" x2="127.15" y2="127.15" stroke="#0d0d0d" stroke-width="1.62" />
<line x1="116.19" y1="116.19" x2="112.65" y2="112.65" stroke="#0d0d0d" stroke-width="1.25" />
<line x1="132.10" y1="122.90" x2="127.85" y2="127.15" stroke="#0d0d0d" stroke-width="1.62" />
<line x1="138.81" y1="116.19" x2="142.35" y2="112.65" stroke="#0d0d0d" stroke-width="1.25" />
<circle cx="95.80" cy="-96.50" r="6.30" stroke="#0d0d0d" stroke-width="3.62" fill="none"/>
<line x1="100.25" y1="-92.05" x2="91.35" y2="-100.95" stroke="#0d0d0d" stroke-width="1.25" />
<line x1="91.35" y1="-92.05" x2="100.25" y2="-100.95" stroke="#0d0d0d" stroke-width="1.25" />
<circle cx="77.80" cy="-78.00" r="6.30" stroke="#0d0d0d" stroke-width="3.62" fill="none"/>
<line x1="82.25" y1="-73.55" x2="73.35" y2="-82.45" stroke="#0d0d0d" stroke-width="1.25" />
<line x1="73.35" y1="-73.55" x2="82.25" y2="-82.45" stroke="#0d0d0d" stroke-width="1.25" />
<line x1="127.50" y1="-127.50" x2="64.00" y2="-64.00" stroke="#0d0d0d" stroke-width="1.25" />
<circle cx="95.80" cy="96.50" r="6.30" stroke="#0d0d0d" stroke-width="3.62" fill="none"/>
<line x1="100.25" y1="100.95" x2="91.35" y2="92.05" stroke="#0d0d0d" stroke-width="1.25" />
<line x1="91.35" y1="100.95" x2="100.25" y2="92.05" stroke="#0d0d0d" stroke-width="1.25" />
<circle cx="77.80" cy="78.00" r="6.30" stroke="#0d0d0d" stroke-width="3.62" fill="none"/>
<line x1="82.25" y1="82.45" x2="73.35" y2="73.55" stroke="#0d0d0d" stroke-width="1.25" />
<line x1="73.35" y1="82.45" x2="82.25" y2="73.55" stroke="#0d0d0d" stroke-width="1.25" />
<line x1="127.50" y1="127.50" x2="64.00" y2="64.00" stroke="#0d0d0d" stroke-width="1.25" />
<path d="M31.08,-146.23A149.50,149.50 0 0 1 31.08,146.23" stroke="#0d0d0d" stroke-width="1.25" fill="none" />
<path d="M21.19,-120.15A122.00,122.00 0 0 1 73.42,-97.43L72,-94L72.70,-91.82A14.80,14.80 0 1 0 85.40,-65.18L95,-72.5A121.5,121.5 0 0 1 95,72.5L85.40,65.18A14.80,14.80 0 1 0 72.70,91.82L73.4,97.4L73.42,97.43A122.00,122.00 0 0 1 21.19,120.15" stroke="#0d0d0d" stroke-width="2.38" fill="none" stroke-linejoin="round"/>
<line x1="64.50" y1="-91.50" x2="58.00" y2="-98.00" stroke="#0d0d0d" stroke-width="1.25" />
<line x1="91.50" y1="-64.50" x2="98.00" y2="-58.00" stroke="#0d0d0d" stroke-width="1.25" />
<line x1="64.50" y1="91.50" x2="58.00" y2="98.00" stroke="#0d0d0d" stroke-width="1.25" />
<line x1="91.50" y1="64.50" x2="98.00" y2="58.00" stroke="#0d0d0d" stroke-width="1.25" />
<path d="M12.59,-71.40A72.50,72.50 0 0 1 12.59,71.40" stroke="#0d0d0d" stroke-width="1.75" fill="none" />
<path d="M9.90,-56.13A57.00,57.00 0 0 1 9.90,56.13" stroke="#0d0d0d" stroke-width="2.50" fill="none" />
<circle cx="117.35" cy="67.75" r="6.30" stroke="#0d0d0d" stroke-width="3.62" fill="none"/>
<line x1="121.80" y1="72.20" x2="112.89" y2="63.30" stroke="#0d0d0d" stroke-width="1.25" />
<line x1="112.89" y1="72.20" x2="121.80" y2="63.30" stroke="#0d0d0d" stroke-width="1.25" />
<path d="M23.58,-133.74A135.80,135.80 0 0 1 87.29,-104.03" stroke="#0d0d0d" stroke-width="1.25" fill="none" />
<path d="M111.24,-77.89A135.80,135.80 0 0 1 115.79,-70.96" stroke="#0d0d0d" stroke-width="1.25" fill="none" />
<path d="M119.90,-63.75A135.80,135.80 0 0 1 135.06,14.19" stroke="#0d0d0d" stroke-width="1.25" fill="none" />
<path d="M130.54,37.43A135.80,135.80 0 0 1 128.01,45.33" stroke="#0d0d0d" stroke-width="1.25" fill="none" />
<path d="M117.61,67.90A135.80,135.80 0 0 1 61.65,121.00" stroke="#0d0d0d" stroke-width="1.25" fill="none" />
<path d="M50.87,125.91A135.80,135.80 0 0 1 44.21,128.40" stroke="#0d0d0d" stroke-width="1.25" fill="none" />
<path d="M37,-107.3H40.5Q45.7,-107.3 45.7,-101.5V-84Q45.7,-78.4 40.5,-78.4H37" stroke="#0d0d0d" stroke-width="1.75" fill="none" />
<ellipse cx="35.8" cy="-93" rx="5.2" ry="7.4" fill="#111"/>
</g>
<path d="M781.3,220.7V178H796V220.7" stroke="#0d0d0d" stroke-width="2.50" fill="none" />
<line x1="788.00" y1="173.50" x2="788.00" y2="263.00" stroke="#0d0d0d" stroke-width="1.25" />
<path d="M800,220.7H764.8V250Q764.8,257.4 757,257.4" stroke="#0d0d0d" stroke-width="1.38" fill="none" />
<line x1="709.00" y1="257.40" x2="758.00" y2="257.40" stroke="#0d0d0d" stroke-width="1.25" />
<line x1="775.00" y1="257.00" x2="775.00" y2="238.00" stroke="#0d0d0d" stroke-width="1.50" />
<line x1="774.30" y1="238.00" x2="800.00" y2="238.00" stroke="#0d0d0d" stroke-width="2.50" />
<path d="M775,248.5Q787,250.5 800,248.5" stroke="#0d0d0d" stroke-width="1.75" fill="none" />
<line x1="720.00" y1="258.60" x2="800.00" y2="258.60" stroke="#0d0d0d" stroke-width="2.75" />
<line x1="720.00" y1="259.00" x2="800.00" y2="263.50" stroke="#0d0d0d" stroke-width="1.25" />
<line x1="720.00" y1="570.00" x2="800.00" y2="570.00" stroke="#0d0d0d" stroke-width="2.75" />
<line x1="720.00" y1="569.50" x2="800.00" y2="565.00" stroke="#0d0d0d" stroke-width="1.25" />
<path d="M702,572H759Q767,573 768.5,584V597" stroke="#0d0d0d" stroke-width="1.38" fill="none" />
<line x1="768.00" y1="597.00" x2="795.00" y2="597.00" stroke="#0d0d0d" stroke-width="2.50" />
<line x1="779.50" y1="572.00" x2="771.00" y2="590.00" stroke="#0d0d0d" stroke-width="1.38" />
<line x1="786.00" y1="570.00" x2="786.00" y2="597.00" stroke="#0d0d0d" stroke-width="2.50" />
<path d="M800,586H796V646H800" stroke="#0d0d0d" stroke-width="2.75" fill="none" />
<line x1="702.50" y1="436.00" x2="702.50" y2="683.00" stroke="#0d0d0d" stroke-width="1.25" />
<line x1="702.50" y1="679.00" x2="800.00" y2="679.00" stroke="#0d0d0d" stroke-width="1.25" />
<polygon points="702.50,679.00 720.00,676.00 720.00,682.00" fill="#0d0d0d"/>
<line x1="662.80" y1="365.60" x2="662.80" y2="525.00" stroke="#0d0d0d" stroke-width="1.25" />
<polygon points="662.80,475.00 659.80,457.50 665.80,457.50" fill="#0d0d0d"/>
<polygon points="662.80,490.20 665.80,507.70 659.80,507.70" fill="#0d0d0d"/>
<line x1="658.00" y1="475.00" x2="716.00" y2="475.00" stroke="#0d0d0d" stroke-width="1.25" />
<line x1="658.00" y1="490.20" x2="714.00" y2="490.20" stroke="#0d0d0d" stroke-width="1.25" />
<line x1="669.00" y1="415.00" x2="725.00" y2="415.00" stroke="#333" stroke-width="1.50" />
<line x1="758.00" y1="415.00" x2="800.00" y2="415.00" stroke="#333" stroke-width="1.50" />
</g>
<g transform="translate(838,415) scale(1.22,1)">
<path id="tp1" d="M-71.08,44.57A79.92,97.50 0 0 1 -65.47,-55.92" fill="none" stroke="none"/>
<text font-size="12.9" letter-spacing="0.35" word-spacing="5" style="stroke:none"><textPath href="#tp1">Profondeur de</textPath></text>
</g>
<g transform="translate(838,415) scale(1.22,1)">
<path id="tp2" d="M-63.54,25.49A66.89,81.60 0 0 1 -54.79,-46.80" fill="none" stroke="none"/>
<text font-size="12.9" letter-spacing="0.35" word-spacing="5" style="stroke:none"><textPath href="#tp2">vissage</textPath></text>
</g>
<g transform="translate(-62,415.8) scale(1.22,1)">
<path id="tp3" d="M70.33,-45.24A79.51,97.00 0 0 1 56.22,68.59" fill="none" stroke="none"/>
<text font-size="12.9" letter-spacing="0.35" word-spacing="5" style="stroke:none"><textPath href="#tp3">Profondeur de</textPath></text>
</g>
<g transform="translate(-62,415.8) scale(1.22,1)">
<path id="tp4" d="M64.48,-21.67A66.89,81.60 0 0 1 47.30,57.70" fill="none" stroke="none"/>
<text font-size="12.9" letter-spacing="0.35" word-spacing="5" style="stroke:none"><textPath href="#tp4">vissage</textPath></text>
</g>
</svg>
</body></html>
